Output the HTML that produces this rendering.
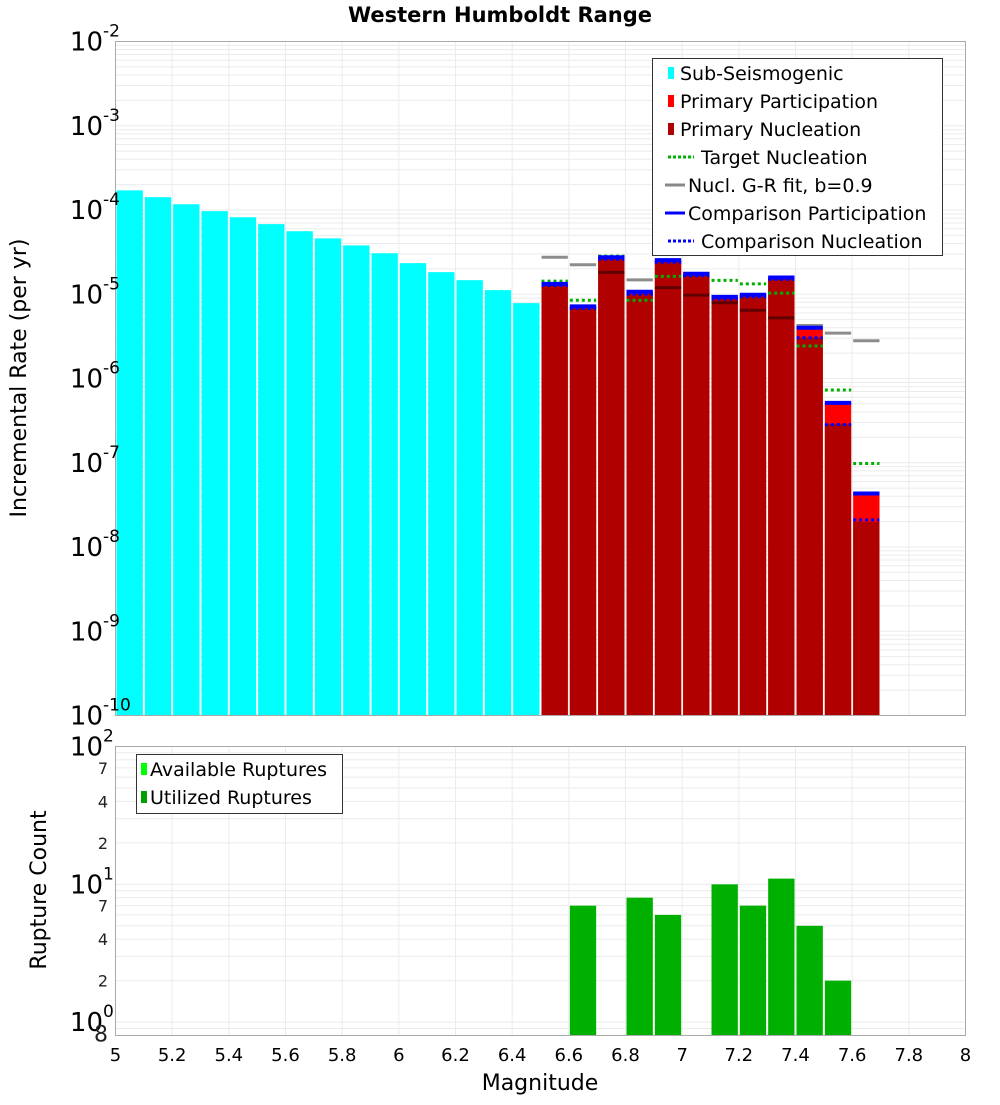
<!DOCTYPE html>
<html><head><meta charset="utf-8"><style>
body{margin:0;background:#fff;}
svg{font-family:"DejaVu Sans","Liberation Sans",sans-serif;}
</style></head><body>
<svg id="chart" width="1000" height="1100" viewBox="0 0 1000 1100">
<text x="500" y="22" text-anchor="middle" font-size="21" font-weight="bold">Western Humboldt Range</text>
<text transform="translate(26,378) rotate(-90)" text-anchor="middle" font-size="22">Incremental Rate (per yr)</text>
<text transform="translate(46,890) rotate(-90)" text-anchor="middle" font-size="22">Rupture Count</text>
<text x="540" y="1090" text-anchor="middle" font-size="22">Magnitude</text>
<g id="topPlot"></g><g id="botPlot"></g>
</svg>
<script>
const subMags=[5.05,5.15,5.25,5.35,5.45,5.55,5.65,5.75,5.85,5.95,6.05,6.15,6.25,6.35,6.45];
const subRates=[1.71e-4,1.42e-4,1.17e-4,9.7e-5,8.2e-5,6.8e-5,5.6e-5,4.6e-5,3.8e-5,3.07e-5,2.34e-5,1.83e-5,1.47e-5,1.12e-5,7.85e-6];
const supMags=[6.55,6.65,6.75,6.85,6.95,7.05,7.15,7.25,7.35,7.45,7.55,7.65];
const primPart=[1.33e-5,7.17e-6,2.75e-5,1.07e-5,2.54e-5,1.75e-5,9.3e-6,9.85e-6,1.58e-5,4.0e-6,5.13e-7,4.31e-8];
const primNucl=[1.33e-5,7.17e-6,2.75e-5,1.07e-5,2.54e-5,1.75e-5,9.3e-6,9.85e-6,1.58e-5,3.05e-6,2.89e-7,1.99e-8];
const targetNucl=[1.43e-5,8.5e-6,2.83e-5,8.5e-6,1.63e-5,1.67e-5,1.46e-5,1.33e-5,1.03e-5,2.43e-6,7.3e-7,9.8e-8];
const grFit=[2.75e-5,2.24e-5,1.82e-5,1.48e-5,1.20e-5,9.76e-6,7.93e-6,6.45e-6,5.24e-6,4.26e-6,3.46e-6,2.81e-6];
const compPart=[1.33e-5,7.17e-6,2.75e-5,1.07e-5,2.54e-5,1.75e-5,9.3e-6,9.85e-6,1.58e-5,4.0e-6,5.13e-7,4.31e-8];
const compNucl=[1.27e-5,6.8e-6,2.6e-5,1.0e-5,2.4e-5,1.66e-5,8.8e-6,9.3e-6,1.5e-5,3.05e-6,2.83e-7,2.1e-8];
const cntMags=[6.65,6.85,6.95,7.15,7.25,7.35,7.45,7.55];
const cntUsed=[7,8,6,10,7,11,5,2];
const xTicks=[5,5.2,5.4,5.6,5.8,6,6.2,6.4,6.6,6.8,7,7.2,7.4,7.6,7.8,8];
const topExps=[-2,-3,-4,-5,-6,-7,-8,-9,-10];

const NS="http://www.w3.org/2000/svg";
const L=115.5,R=965.5,T1=41.5,B1=715.5,T2=746.5,B2=1035.5;
const xs=m=>L+(m-5)/3*(R-L);
const y1=v=>T1+(-2-Math.log10(v))/8*(B1-T1);
const y2=v=>T2+(2-Math.log10(v))/(2-Math.log10(0.8))*(B2-T2);
function mk(p,tag,a,txt){const e=document.createElementNS(NS,tag);for(const k in a)e.setAttribute(k,a[k]);if(txt!=null)e.textContent=txt;p.appendChild(e);return e;}
const gTop=document.getElementById('topPlot'),gBot=document.getElementById('botPlot');
const hw=(R-L)/60;

function frame(g,T,B,ylog,lo,hi,nm){
  mk(g,'rect',{x:L,y:T,width:R-L,height:B-T,fill:'#fff'});
  for(let e=lo;e<hi;e++)for(let k=1;k<10;k++){const v=k*Math.pow(10,e);const y=ylog(v);if(y<T-0.5||y>B+0.5)continue;
    const ln=mk(g,'line',{x1:L,x2:R,y1:y,y2:y,stroke:'#ebebeb','stroke-width':1});
    
    }
  xTicks.forEach(t=>{const ln=mk(g,'line',{x1:xs(t),x2:xs(t),y1:T,y2:B,stroke:'#ebebeb'});
    
    });
}
frame(gTop,T1,B1,y1,-10,-1,'top');
frame(gBot,T2,B2,y2,-1,3,'bottom');

subMags.forEach((m,i)=>{const y=y1(subRates[i]);const r=mk(gTop,'rect',{x:xs(m)-hw+1,y:y,width:2*hw-2,height:B1-y,fill:'#00ffff'});
  
  });
supMags.forEach((m,i)=>{const x=xs(m)-hw+1,w=2*hw-2;
  let y=y1(primPart[i]);let r=mk(gTop,'rect',{x:x,y:y,width:w,height:B1-y,fill:'#ff0000'});
  
  
  y=y1(primNucl[i]);r=mk(gTop,'rect',{x:x,y:y,width:w,height:B1-y,fill:'#b00000'});
  
  });
supMags.forEach((m,i)=>{const x1=xs(m)-hw+1,x2=xs(m)+hw-1;
  let l=mk(gTop,'line',{x1:x1,x2:x2,y1:y1(grFit[i]),y2:y1(grFit[i]),stroke:'rgba(0,0,0,0.45)','stroke-width':3});
  
  
  l=mk(gTop,'line',{x1:x1,x2:x2,y1:y1(targetNucl[i]),y2:y1(targetNucl[i]),stroke:'#00b000','stroke-width':3,'stroke-dasharray':'3,3'});
  
  
  l=mk(gTop,'line',{x1:x1,x2:x2,y1:y1(compPart[i]),y2:y1(compPart[i]),stroke:'#0000ff','stroke-width':4});
  
  
  l=mk(gTop,'line',{x1:x1,x2:x2,y1:y1(compNucl[i]),y2:y1(compNucl[i]),stroke:'#0000ff','stroke-width':3,'stroke-dasharray':'3,3'});
  
  });
mk(gTop,'rect',{x:L,y:T1,width:R-L,height:B1-T1,fill:'none',stroke:'#aaa'});

topExps.forEach(e=>{const y=y1(Math.pow(10,e));
  const t=mk(gTop,'text',{x:103,y:y+9,'text-anchor':'end','font-size':26},'10');
  
  
  const s=mk(gTop,'text',{x:103,y:y-5,'font-size':17},String(e));
  
  });

const lg=mk(gTop,'g',{});


mk(lg,'rect',{x:652.5,y:58.5,width:290,height:197,fill:'#fff',stroke:'#333'});
const items=[['Sub-Seismogenic','sq','#00ffff'],['Primary Participation','sq','#ff0000'],['Primary Nucleation','sq','#b00000'],['Target Nucleation','dot','#00b000'],['Nucl. G-R fit, b=0.9','ln','#888'],['Comparison Participation','ln','#0000ff'],['Comparison Nucleation','dot','#0000ff']];
items.forEach((it,i)=>{const y=73+i*28.0;const g=mk(lg,'g',{});
  
  
  let tx=680;
  if(it[1]=='sq')mk(g,'rect',{x:668,y:y-6,width:6,height:12,fill:it[2]});
  else if(it[1]=='ln'){mk(g,'line',{x1:665,x2:685,y1:y,y2:y,stroke:it[2],'stroke-width':3});tx=688;}
  else{mk(g,'line',{x1:668,x2:694,y1:y,y2:y,stroke:it[2],'stroke-width':3,'stroke-dasharray':'3,2'});tx=701;}
  mk(g,'text',{x:tx,y:y+7,'font-size':19},it[0]);});

cntMags.forEach((m,i)=>{const y=y2(cntUsed[i]);const r=mk(gBot,'rect',{x:xs(m)-hw+1,y:y,width:2*hw-2,height:B2-y,fill:'#00b000'});
  
  });
mk(gBot,'rect',{x:L,y:T2,width:R-L,height:B2-T2,fill:'none',stroke:'#aaa'});
[[2,100],[1,10],[0,1]].forEach(([e,v])=>{const y=y2(v);
  const t=mk(gBot,'text',{x:103,y:y+9,'text-anchor':'end','font-size':26},'10');
  
  
  const s=mk(gBot,'text',{x:103,y:y-5,'font-size':17},String(e));
  
  });
[7,4,2,70,40,20,0.8].forEach(v=>{const y=y2(v);const lab=v<1?'8':String(v).charAt(0);
  const t=mk(gBot,'text',{x:108,y:y+6,'text-anchor':'end','font-size':16,fill:'#222'},lab);
  if(v<1){t.setAttribute('font-size','22');}
  
  });
const lg2=mk(gBot,'g',{});


mk(lg2,'rect',{x:136.5,y:754.5,width:206,height:59,fill:'#fff',stroke:'#333'});
[['Available Ruptures','#00ff00'],['Utilized Ruptures','#00a000']].forEach((it,i)=>{const y=769+i*28;const g=mk(lg2,'g',{});
  
  
  mk(g,'rect',{x:141,y:y-6,width:6,height:12,fill:it[1]});
  mk(g,'text',{x:150,y:y+7,'font-size':19},it[0]);});
xTicks.forEach(t=>{const e=mk(gBot,'text',{x:xs(t),y:1061,'text-anchor':'middle','font-size':18},String(t));
  
  });
</script>
</body></html>
